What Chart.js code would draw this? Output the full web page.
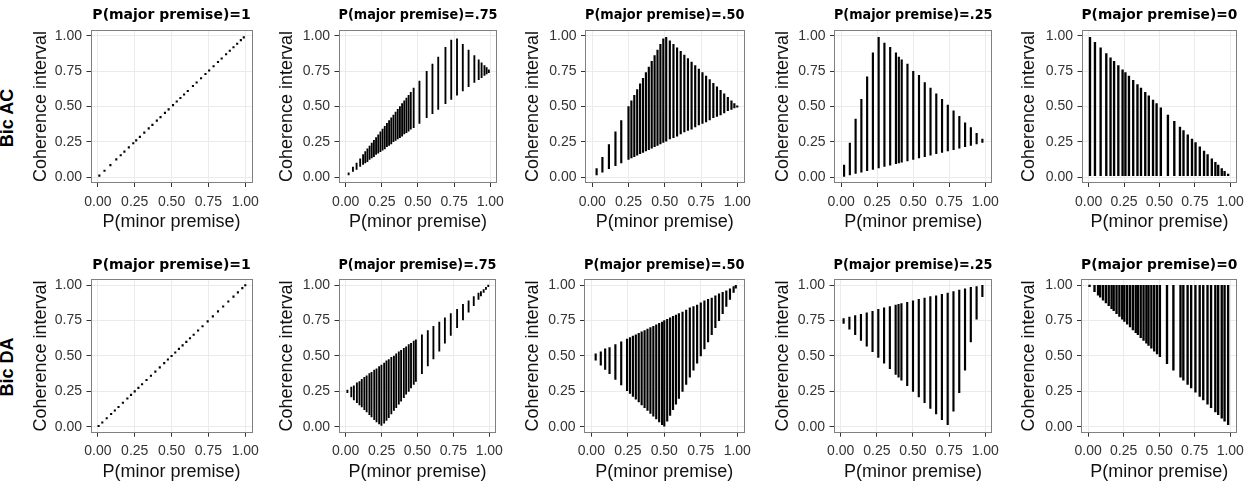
<!DOCTYPE html>
<html>
<head>
<meta charset="utf-8">
<script src="https://cdn.jsdelivr.net/npm/chart.js@4.4.1/dist/chart.umd.min.js"></script>
<style>
html,body{margin:0;padding:0;background:#fff;}
#wrap{position:relative;width:1251px;height:499px;overflow:hidden;background:#fff;}
#wrap canvas{position:absolute;}
.rowlab{position:absolute;font:bold 18px "Liberation Sans",Arial,sans-serif;line-height:18px;color:#000;white-space:nowrap;transform:translate(-50%,-50%) rotate(-90deg);}
</style>
</head>
<body>
<div id="wrap"></div>
<script>
// ---------------- text ----------------
const rowLabels = ['Bic AC', 'Bic DA'];
const panelTitles = ['P(major premise)=1', 'P(major premise)=.75', 'P(major premise)=.50', 'P(major premise)=.25', 'P(major premise)=0'];
const xAxisTitle = 'P(minor premise)';
const yAxisTitle = 'Coherence interval';
const tickValues = [0, 0.25, 0.5, 0.75, 1];
const tickLabels = ['0.00', '0.25', '0.50', '0.75', '1.00'];

// ---------------- Bic AC (top row) ----------------
const acX_1 = [0.01, 0.045, 0.085, 0.125, 0.155, 0.18, 0.21, 0.24, 0.26, 0.285, 0.315, 0.345, 0.37, 0.40, 0.425, 0.455, 0.48, 0.51, 0.535, 0.56, 0.585, 0.61, 0.645, 0.67, 0.70, 0.73, 0.755, 0.785, 0.815, 0.84, 0.87, 0.895, 0.92, 0.945, 0.97, 0.99];
const acY_1 = [0.01, 0.045, 0.085, 0.125, 0.155, 0.18, 0.21, 0.24, 0.26, 0.285, 0.315, 0.345, 0.37, 0.40, 0.425, 0.455, 0.48, 0.51, 0.535, 0.56, 0.585, 0.61, 0.645, 0.67, 0.70, 0.73, 0.755, 0.785, 0.815, 0.84, 0.87, 0.895, 0.92, 0.945, 0.97, 0.99];

const acX_75 = [0.02, 0.05, 0.075, 0.10, 0.12, 0.135, 0.15, 0.165, 0.18, 0.195, 0.21, 0.225, 0.24, 0.255, 0.27, 0.285, 0.30, 0.315, 0.33, 0.345, 0.36, 0.375, 0.39, 0.405, 0.42, 0.435, 0.45, 0.47, 0.51, 0.56, 0.60, 0.64, 0.69, 0.73, 0.77, 0.81, 0.85, 0.89, 0.92, 0.94, 0.96, 0.975, 0.99];
const acLo_75 = [0.015, 0.04, 0.055, 0.075, 0.09, 0.10, 0.11, 0.125, 0.135, 0.145, 0.16, 0.17, 0.18, 0.19, 0.20, 0.215, 0.225, 0.235, 0.25, 0.26, 0.27, 0.28, 0.29, 0.305, 0.315, 0.325, 0.34, 0.35, 0.38, 0.42, 0.45, 0.48, 0.52, 0.55, 0.58, 0.61, 0.64, 0.67, 0.69, 0.705, 0.72, 0.73, 0.74];
const acHi_75 = [0.03, 0.07, 0.10, 0.13, 0.16, 0.18, 0.20, 0.22, 0.24, 0.26, 0.28, 0.30, 0.32, 0.34, 0.36, 0.38, 0.40, 0.42, 0.44, 0.46, 0.48, 0.50, 0.52, 0.54, 0.56, 0.58, 0.60, 0.63, 0.68, 0.75, 0.80, 0.85, 0.92, 0.97, 0.98, 0.94, 0.90, 0.86, 0.83, 0.81, 0.79, 0.775, 0.76];

const acX_50 = [0.03, 0.07, 0.115, 0.16, 0.20, 0.25, 0.27, 0.29, 0.31, 0.33, 0.35, 0.37, 0.39, 0.41, 0.43, 0.45, 0.47, 0.49, 0.51, 0.535, 0.56, 0.585, 0.61, 0.635, 0.66, 0.685, 0.71, 0.735, 0.76, 0.785, 0.81, 0.835, 0.86, 0.885, 0.91, 0.935, 0.96, 0.98, 1.0];
const acLo_50 = [0.015, 0.035, 0.06, 0.08, 0.10, 0.125, 0.135, 0.145, 0.155, 0.165, 0.175, 0.185, 0.195, 0.205, 0.215, 0.225, 0.235, 0.245, 0.255, 0.27, 0.28, 0.29, 0.305, 0.32, 0.33, 0.34, 0.355, 0.37, 0.38, 0.39, 0.405, 0.42, 0.43, 0.44, 0.455, 0.47, 0.48, 0.49, 0.495];
const acHi_50 = [0.06, 0.14, 0.23, 0.32, 0.40, 0.50, 0.54, 0.58, 0.62, 0.66, 0.70, 0.74, 0.78, 0.82, 0.86, 0.90, 0.94, 0.98, 0.99, 0.965, 0.94, 0.915, 0.89, 0.865, 0.84, 0.815, 0.79, 0.765, 0.74, 0.715, 0.69, 0.665, 0.64, 0.615, 0.59, 0.565, 0.54, 0.52, 0.505];

const acX_25 = [0.02, 0.06, 0.10, 0.14, 0.18, 0.22, 0.26, 0.30, 0.34, 0.38, 0.40, 0.42, 0.46, 0.50, 0.54, 0.58, 0.62, 0.66, 0.70, 0.74, 0.78, 0.82, 0.86, 0.90, 0.94, 0.98];
const acLo_25 = [0.005, 0.015, 0.025, 0.035, 0.045, 0.055, 0.065, 0.075, 0.085, 0.095, 0.10, 0.105, 0.115, 0.125, 0.135, 0.145, 0.155, 0.165, 0.175, 0.185, 0.195, 0.205, 0.215, 0.225, 0.235, 0.245];
const acHi_25 = [0.085, 0.24, 0.41, 0.55, 0.71, 0.88, 0.99, 0.95, 0.92, 0.88, 0.85, 0.83, 0.80, 0.75, 0.72, 0.67, 0.63, 0.59, 0.55, 0.51, 0.47, 0.43, 0.385, 0.35, 0.31, 0.27];

const acX_0 = [0.01, 0.045, 0.085, 0.125, 0.155, 0.18, 0.21, 0.24, 0.26, 0.285, 0.315, 0.345, 0.37, 0.40, 0.425, 0.455, 0.48, 0.51, 0.56, 0.605, 0.645, 0.67, 0.70, 0.73, 0.755, 0.785, 0.815, 0.84, 0.87, 0.895, 0.915, 0.94, 0.96, 0.985];
const acLo_0 = [0.01, 0.01, 0.01, 0.01, 0.01, 0.01, 0.01, 0.01, 0.01, 0.01, 0.01, 0.01, 0.01, 0.01, 0.01, 0.01, 0.01, 0.01, 0.01, 0.01, 0.01, 0.01, 0.01, 0.01, 0.01, 0.01, 0.01, 0.01, 0.01, 0.01, 0.01, 0.01, 0.01, 0.01];
const acHi_0 = [0.99, 0.955, 0.915, 0.875, 0.845, 0.82, 0.79, 0.76, 0.74, 0.715, 0.685, 0.655, 0.63, 0.60, 0.575, 0.545, 0.52, 0.49, 0.44, 0.395, 0.355, 0.33, 0.30, 0.27, 0.245, 0.215, 0.185, 0.16, 0.13, 0.105, 0.085, 0.06, 0.04, 0.015];

// ---------------- Bic DA (bottom row) ----------------
const daX_1 = [0.005, 0.03, 0.06, 0.09, 0.115, 0.14, 0.17, 0.20, 0.225, 0.25, 0.275, 0.30, 0.33, 0.36, 0.39, 0.42, 0.45, 0.475, 0.50, 0.525, 0.55, 0.575, 0.60, 0.625, 0.65, 0.68, 0.71, 0.745, 0.78, 0.815, 0.85, 0.885, 0.92, 0.95, 0.98, 1.0];
const daY_1 = [0.005, 0.03, 0.06, 0.09, 0.115, 0.14, 0.17, 0.20, 0.225, 0.25, 0.275, 0.30, 0.33, 0.36, 0.39, 0.42, 0.45, 0.475, 0.50, 0.525, 0.55, 0.575, 0.60, 0.625, 0.65, 0.68, 0.71, 0.745, 0.78, 0.815, 0.85, 0.885, 0.92, 0.95, 0.98, 1.0];

const daX_75 = [0.012, 0.039, 0.057, 0.078, 0.096, 0.112, 0.13, 0.146, 0.165, 0.18, 0.199, 0.215, 0.233, 0.249, 0.268, 0.284, 0.30, 0.318, 0.336, 0.352, 0.37, 0.386, 0.405, 0.421, 0.439, 0.455, 0.474, 0.489, 0.531, 0.572, 0.611, 0.652, 0.691, 0.732, 0.776, 0.817, 0.856, 0.892, 0.925, 0.942, 0.961, 0.977, 0.993];
const daLo_75 = [0.24, 0.21, 0.19, 0.17, 0.155, 0.14, 0.12, 0.105, 0.085, 0.07, 0.05, 0.035, 0.02, 0.01, 0.025, 0.045, 0.065, 0.09, 0.115, 0.135, 0.16, 0.18, 0.205, 0.23, 0.25, 0.275, 0.30, 0.32, 0.375, 0.43, 0.48, 0.535, 0.59, 0.645, 0.70, 0.755, 0.81, 0.855, 0.90, 0.925, 0.95, 0.97, 0.99];
const daHi_75 = [0.26, 0.28, 0.29, 0.31, 0.32, 0.335, 0.35, 0.36, 0.375, 0.385, 0.40, 0.41, 0.425, 0.435, 0.45, 0.465, 0.475, 0.49, 0.50, 0.515, 0.53, 0.54, 0.555, 0.565, 0.58, 0.59, 0.605, 0.615, 0.65, 0.68, 0.71, 0.74, 0.77, 0.80, 0.83, 0.865, 0.89, 0.92, 0.945, 0.955, 0.97, 0.985, 1.0];

const daX_50 = [0.03, 0.065, 0.095, 0.125, 0.165, 0.205, 0.245, 0.265, 0.285, 0.305, 0.325, 0.345, 0.365, 0.385, 0.405, 0.425, 0.445, 0.465, 0.485, 0.50, 0.52, 0.54, 0.56, 0.58, 0.60, 0.625, 0.65, 0.675, 0.70, 0.725, 0.75, 0.775, 0.80, 0.825, 0.85, 0.875, 0.90, 0.925, 0.95, 0.975, 0.99];
const daLo_50 = [0.47, 0.435, 0.405, 0.375, 0.335, 0.295, 0.255, 0.235, 0.215, 0.195, 0.175, 0.155, 0.135, 0.115, 0.095, 0.075, 0.055, 0.035, 0.015, 0.005, 0.04, 0.08, 0.12, 0.16, 0.20, 0.25, 0.30, 0.35, 0.40, 0.45, 0.50, 0.55, 0.60, 0.65, 0.70, 0.75, 0.80, 0.85, 0.90, 0.95, 0.98];
const daHi_50 = [0.515, 0.53, 0.55, 0.56, 0.58, 0.60, 0.62, 0.63, 0.64, 0.65, 0.66, 0.67, 0.68, 0.69, 0.70, 0.71, 0.72, 0.73, 0.74, 0.75, 0.76, 0.77, 0.78, 0.79, 0.80, 0.81, 0.825, 0.84, 0.85, 0.86, 0.875, 0.89, 0.90, 0.91, 0.925, 0.94, 0.95, 0.96, 0.975, 0.99, 1.0];

const daX_25 = [0.02, 0.06, 0.10, 0.14, 0.18, 0.22, 0.26, 0.30, 0.34, 0.38, 0.40, 0.42, 0.46, 0.50, 0.54, 0.58, 0.62, 0.66, 0.70, 0.74, 0.78, 0.82, 0.86, 0.90, 0.94, 0.98];
const daLo_25 = [0.73, 0.69, 0.65, 0.61, 0.57, 0.53, 0.49, 0.45, 0.41, 0.37, 0.35, 0.33, 0.29, 0.25, 0.21, 0.17, 0.13, 0.09, 0.05, 0.015, 0.11, 0.24, 0.40, 0.60, 0.76, 0.92];
const daHi_25 = [0.765, 0.775, 0.785, 0.795, 0.805, 0.815, 0.83, 0.84, 0.85, 0.86, 0.865, 0.87, 0.88, 0.89, 0.90, 0.91, 0.92, 0.925, 0.935, 0.945, 0.955, 0.965, 0.975, 0.985, 0.99, 1.0];

const daX_0 = [0.01, 0.045, 0.07, 0.085, 0.105, 0.125, 0.145, 0.165, 0.18, 0.20, 0.22, 0.24, 0.255, 0.275, 0.295, 0.315, 0.335, 0.35, 0.37, 0.39, 0.41, 0.425, 0.445, 0.465, 0.485, 0.505, 0.555, 0.60, 0.65, 0.67, 0.70, 0.725, 0.755, 0.785, 0.81, 0.84, 0.865, 0.895, 0.915, 0.94, 0.96, 0.985];
const daLo_0 = [0.99, 0.955, 0.93, 0.915, 0.895, 0.875, 0.855, 0.835, 0.82, 0.80, 0.78, 0.76, 0.745, 0.725, 0.705, 0.685, 0.665, 0.65, 0.63, 0.61, 0.59, 0.575, 0.555, 0.535, 0.515, 0.495, 0.445, 0.40, 0.35, 0.33, 0.30, 0.275, 0.245, 0.215, 0.19, 0.16, 0.135, 0.105, 0.085, 0.06, 0.04, 0.015];
const daHi_0 = [1.0, 1.0, 1.0, 1.0, 1.0, 1.0, 1.0, 1.0, 1.0, 1.0, 1.0, 1.0, 1.0, 1.0, 1.0, 1.0, 1.0, 1.0, 1.0, 1.0, 1.0, 1.0, 1.0, 1.0, 1.0, 1.0, 1.0, 1.0, 1.0, 1.0, 1.0, 1.0, 1.0, 1.0, 1.0, 1.0, 1.0, 1.0, 1.0, 1.0, 1.0, 1.0];

// ---------------- layout (positions only) ----------------
const rowGeom = [
  {top: 0,   h: 250, chartTop: 30,   chartBottom: 183,   xTitleCenter: 222, labelY: 118},
  {top: 250, h: 249, chartTop: 29.3, chartBottom: 182.7, xTitleCenter: 222, labelY: 117}
];
const colGeom = [
  [{ytcx: 40.5, left: 90.5, right: 256}, {ytcx: 287, left: 338.5, right: 500.5}, {ytcx: 533, left: 585, right: 748}, {ytcx: 782.5, left: 834, right: 995.7}, {ytcx: 1029, left: 1081.5, right: 1243}],
  [{ytcx: 40.5, left: 90.5, right: 256}, {ytcx: 287, left: 338.5, right: 500}, {ytcx: 533, left: 584, right: 747.5}, {ytcx: 782.5, left: 833.5, right: 996}, {ytcx: 1029, left: 1081, right: 1242.5}]
];

const panels = [
  {row: 0, col: 0, dots: true, x: acX_1, y: acY_1},
  {row: 0, col: 1, x: acX_75, lo: acLo_75, hi: acHi_75, bw: 1.2},
  {row: 0, col: 2, x: acX_50, lo: acLo_50, hi: acHi_50, bw: 1.5},
  {row: 0, col: 3, x: acX_25, lo: acLo_25, hi: acHi_25, bw: 1.5},
  {row: 0, col: 4, x: acX_0, lo: acLo_0, hi: acHi_0, bw: 1.7},
  {row: 1, col: 0, dots: true, x: daX_1, y: daY_1},
  {row: 1, col: 1, x: daX_75, lo: daLo_75, hi: daHi_75, bw: 1.2},
  {row: 1, col: 2, x: daX_50, lo: daLo_50, hi: daHi_50, bw: 1.5},
  {row: 1, col: 3, x: daX_25, lo: daLo_25, hi: daHi_25, bw: 1.5},
  {row: 1, col: 4, x: daX_0, lo: daLo_0, hi: daHi_0, bw: 1.7}
];

const SANS = "'Liberation Sans', Arial, sans-serif";
const wrap = document.getElementById('wrap');

const boxPlugin = {
  id: 'panelBox',
  afterDraw(chart) {
    const {ctx, chartArea: a} = chart;
    ctx.save();
    ctx.strokeStyle = '#808080';
    ctx.lineWidth = 1;
    const l = Math.round(a.left), t = Math.round(a.top), r = Math.round(a.right), b = Math.round(a.bottom);
    ctx.strokeRect(l + 0.5, t + 0.5, r - l - 1, b - t - 1);
    ctx.restore();
  }
};

function fixedTicks(scale) {
  scale.ticks = tickValues.map(v => ({value: v}));
}
function tickText(v) {
  const i = tickValues.indexOf(v);
  return i >= 0 ? tickLabels[i] : '';
}

function makePanel(p) {
  const r = rowGeom[p.row];
  const g = colGeom[p.row][p.col];
  const cl = Math.round(g.ytcx - 10.8);
  const cr = Math.min(1251, Math.ceil(g.right + 10));
  const w = cr - cl;
  const rightPad = cr - g.right;
  const yW = g.left - cl;
  const xH = r.h - r.chartBottom;
  const titlePadBottom = r.chartTop - 7 - 16.8;
  const xTitlePadBottom = r.h - r.xTitleCenter - 10.8;

  const cv = document.createElement('canvas');
  cv.width = w; cv.height = r.h;
  cv.style.left = cl + 'px'; cv.style.top = r.top + 'px';
  cv.style.width = w + 'px'; cv.style.height = r.h + 'px';
  wrap.appendChild(cv);

  let type, dataset;
  if (p.dots) {
    type = 'scatter';
    dataset = {
      data: p.x.map((v, i) => ({x: v, y: p.y[i]})),
      pointStyle: 'rect', pointRadius: 1.5, pointBackgroundColor: '#000',
      pointBorderWidth: 0, pointBorderColor: '#000', showLine: false
    };
  } else {
    type = 'bar';
    dataset = {
      data: p.x.map((v, i) => ({x: v, y: [p.lo[i], p.hi[i]]})),
      backgroundColor: '#000', borderWidth: 0, barThickness: p.bw, minBarLength: 1.5
    };
  }

  new Chart(cv, {
    type: type,
    data: {datasets: [dataset]},
    options: {
      responsive: false, animation: false, devicePixelRatio: 1,
      events: [],
      layout: {padding: {left: 0, right: rightPad, top: 0, bottom: 0}},
      plugins: {
        legend: {display: false},
        tooltip: {enabled: false},
        title: {
          display: true, text: panelTitles[p.col], fullSize: false,
          font: {family: "'DejaVu Sans', sans-serif", weight: 'bold', size: 14, lineHeight: 1.2},
          color: '#000', padding: {top: 7, bottom: titlePadBottom}
        }
      },
      scales: {
        x: {
          type: 'linear', min: -0.05, max: 1.05, offset: false,
          afterBuildTicks: fixedTicks,
          afterFit: s => { s.height = xH; },
          ticks: {callback: tickText, font: {family: SANS, size: 14}, color: '#333', padding: 6.5, maxRotation: 0, autoSkip: false},
          grid: {color: '#ebebeb', lineWidth: 1, offset: false, drawTicks: true, tickLength: 4, tickColor: '#333', tickWidth: 1},
          border: {display: false},
          title: {display: true, text: xAxisTitle, font: {family: SANS, size: 18, lineHeight: 1.2}, color: '#111', padding: {top: 0, bottom: xTitlePadBottom}}
        },
        y: {
          type: 'linear', min: -0.042, max: 1.042,
          afterBuildTicks: fixedTicks,
          afterFit: s => { s.width = yW; },
          ticks: {callback: tickText, font: {family: SANS, size: 14}, color: '#333', padding: 4.5},
          grid: {color: '#ebebeb', lineWidth: 1, drawTicks: true, tickLength: 4, tickColor: '#333', tickWidth: 1},
          border: {display: false},
          title: {display: true, text: yAxisTitle, font: {family: SANS, size: 18, lineHeight: 1.2}, color: '#111', padding: {top: 0, bottom: 0}}
        }
      }
    },
    plugins: [boxPlugin]
  });
}

panels.forEach(makePanel);

rowLabels.forEach((t, i) => {
  const d = document.createElement('div');
  d.className = 'rowlab';
  d.textContent = t;
  d.style.left = '6.5px';
  d.style.top = (rowGeom[i].top + rowGeom[i].labelY) + 'px';
  wrap.appendChild(d);
});
</script>
</body>
</html>
